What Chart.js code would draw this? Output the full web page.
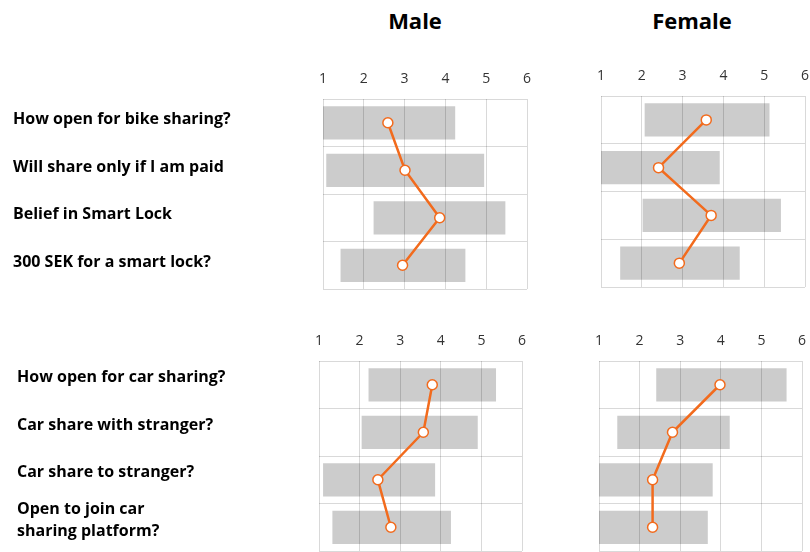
<!DOCTYPE html>
<html>
<head>
<meta charset="utf-8">
<script src="https://cdn.jsdelivr.net/npm/chart.js@4.4.1/dist/chart.umd.min.js"></script>
<style>
  html, body { margin: 0; padding: 0; background: #fff; }
  body { width: 810px; height: 552px; position: relative; overflow: hidden; }
  .panel { position: absolute; }
  .title {
    position: absolute; transform: translateX(-50%); white-space: nowrap;
    font-family: 'Open Sans', sans-serif; font-weight: 700; font-size: 22px;
    line-height: 1; color: #000;
  }
</style>
</head>
<body>
<div class="title" style="left:415px; top:9px;">Male</div>
<div class="title" style="left:692px; top:9px;">Female</div>

<div class="panel" style="left:0px; top:60px; width:537px; height:240px;"><canvas id="maleBike"></canvas></div>
<div class="panel" style="left:585px; top:56px; width:225px; height:240px;"><canvas id="femaleBike"></canvas></div>
<div class="panel" style="left:0px; top:320px; width:532px; height:232px;"><canvas id="maleCar"></canvas></div>
<div class="panel" style="left:583px; top:320px; width:227px; height:232px;"><canvas id="femaleCar"></canvas></div>

<script>
// Survey questions (rows)
const bikeQuestions = [
  'How open for bike sharing?',
  'Will share only if I am paid',
  'Belief in Smart Lock',
  '300 SEK for a smart lock?'
];
const carQuestions = [
  'How open for car sharing?',
  'Car share with stranger?',
  'Car share to stranger?',
  ['Open to join car', 'sharing platform?']
];

// Answer scale
const scaleMin = 1;
const scaleMax = 6;

// Bike sharing – male: mean and spread (low / high end of grey bar)
const maleBikeMean = [2.59, 3.01, 3.86, 2.95];
const maleBikeLow  = [0.94, 1.08, 2.24, 1.43];
const maleBikeHigh = [4.24, 4.95, 5.47, 4.49];

// Bike sharing – female
const femaleBikeMean = [3.58, 2.41, 3.70, 2.92];
const femaleBikeLow  = [2.07, 0.91, 2.02, 1.47];
const femaleBikeHigh = [5.13, 3.91, 5.41, 4.40];

// Car sharing – male
const maleCarMean = [3.79, 3.57, 2.45, 2.77];
const maleCarLow  = [2.22, 2.05, 1.10, 1.33];
const maleCarHigh = [5.36, 4.91, 3.86, 4.25];

// Car sharing – female
const femaleCarMean = [3.98, 2.81, 2.32, 2.32];
const femaleCarLow  = [2.41, 1.45, 0.84, 0.96];
const femaleCarHigh = [5.62, 4.22, 3.80, 3.68];

const ORANGE = '#f26b1d';
const BAR_GREY = '#cccccc';
const GRID = 'rgba(0,0,0,0.15)';

// Re-stroke the vertical grid lines inside the grey bars so they show through
const gridOverBars = {
  id: 'gridOverBars',
  afterDatasetDraw(chart, args) {
    if (args.meta.type !== 'bar') return;
    const ctx = chart.ctx;
    const area = chart.chartArea;
    ctx.save();
    ctx.beginPath();
    args.meta.data.forEach(bar => {
      const p = bar.getProps(['x', 'y', 'base', 'height'], true);
      const l = Math.max(Math.min(p.x, p.base), area.left);
      const r = Math.min(Math.max(p.x, p.base), area.right);
      ctx.rect(l, p.y - p.height / 2, r - l, p.height);
    });
    ctx.clip();
    chart.scales.x.drawGrid(area);
    ctx.restore();
  }
};

function makePanel(id, questions, means, lows, highs, layout) {
  const ranges = lows.map((lo, i) => [lo, highs[i]]);
  return new Chart(document.getElementById(id), {
    type: 'bar',
    data: {
      labels: questions,
      datasets: [
        {
          type: 'line',
          indexAxis: 'y',
          data: means,
          borderColor: ORANGE,
          borderWidth: 2.5,
          tension: 0,
          pointRadius: 5,
          pointBorderWidth: 1.5,
          pointBackgroundColor: '#ffffff',
          pointBorderColor: ORANGE
        },
        {
          type: 'bar',
          indexAxis: 'y',
          data: ranges,
          backgroundColor: BAR_GREY,
          borderWidth: 0,
          categoryPercentage: 1,
          barPercentage: 0.7
        }
      ]
    },
    options: {
      indexAxis: 'y',
      responsive: true,
      maintainAspectRatio: false,
      animation: false,
      layout: { padding: layout.padding, autoPadding: false },
      plugins: { legend: { display: false }, tooltip: { enabled: false } },
      scales: {
        x: {
          type: 'linear',
          position: 'top',
          min: scaleMin,
          max: scaleMax,
          ticks: {
            stepSize: 1,
            padding: 12,
            color: '#333333',
            font: { family: 'Open Sans', size: 14 }
          },
          grid: { color: GRID, drawTicks: false },
          border: { display: false },
          afterFit: s => {
            s.height = layout.xAxisHeight;
            s.paddingLeft = 0;
            s.paddingRight = 0;
          }
        },
        y: {
          type: 'category',
          offset: true,
          grid: { offset: true, color: GRID, drawTicks: false },
          border: { display: false },
          ticks: {
            display: layout.showLabels,
            autoSkip: false,
            crossAlign: 'far',
            labelOffset: layout.labelOffset || 0,
            color: '#000000',
            font: { family: 'Open Sans', weight: 'bold', size: 16, lineHeight: 1.4 }
          },
          afterFit: s => {
            s.width = layout.yAxisWidth;
            s.paddingTop = 0;
            s.paddingBottom = 0;
          }
        }
      }
    },
    plugins: [gridOverBars]
  });
}

makePanel('maleBike', bikeQuestions, maleBikeMean, maleBikeLow, maleBikeHigh, {
  padding: { left: 13, right: 10, top: 0, bottom: 11 },
  xAxisHeight: 39, yAxisWidth: 310, showLabels: true, labelOffset: -3
});
makePanel('femaleBike', bikeQuestions, femaleBikeMean, femaleBikeLow, femaleBikeHigh, {
  padding: { left: 16, right: 5, top: 0, bottom: 9 },
  xAxisHeight: 40, yAxisWidth: 0, showLabels: false
});
makePanel('maleCar', carQuestions, maleCarMean, maleCarLow, maleCarHigh, {
  padding: { left: 17, right: 10, top: 0, bottom: 1 },
  xAxisHeight: 41, yAxisWidth: 302, showLabels: true, labelOffset: -7
});
makePanel('femaleCar', carQuestions, femaleCarMean, femaleCarLow, femaleCarHigh, {
  padding: { left: 16, right: 8, top: 0, bottom: 1 },
  xAxisHeight: 41, yAxisWidth: 0, showLabels: false
});
</script>
</body>
</html>
